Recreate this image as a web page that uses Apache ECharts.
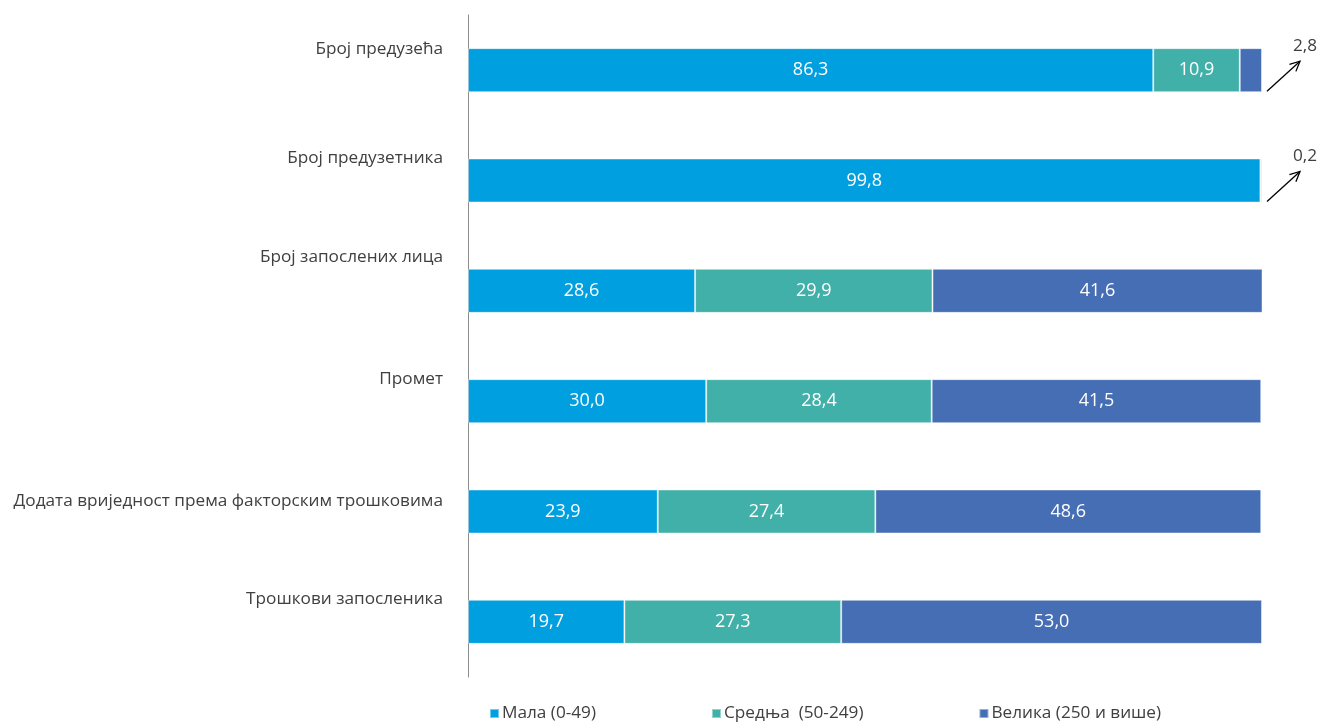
<!DOCTYPE html>
<html>
<head>
<meta charset="utf-8">
<script src="https://cdn.jsdelivr.net/npm/echarts@6/dist/echarts.min.js"></script>
<style>
html,body{margin:0;padding:0;background:#fff;}
#chart{width:1318px;height:722px;}
</style>
</head>
<body>
<div id="chart"></div>
<script>
const categories = [
  'Број предузећа',
  'Број предузетника',
  'Број запослених лица',
  'Промет',
  'Додата вриједност према факторским трошковима',
  'Трошкови запосленика'
];
const seriesNames = ['Мала (0-49)', 'Средња  (50-249)', 'Велика (250 и више)'];
const mala    = [86.3, 99.8, 28.6, 30.0, 23.9, 19.7];
const srednja = [10.9, 0.2, 29.9, 28.4, 27.4, 27.3];
const velika  = [2.8, 0.0, 41.6, 41.5, 48.6, 53.0];
// callouts for small segments: [category index, value shown]
const callouts = [[0, 2.8], [1, 0.2]];
// vertical label lift (px) per category, as in reference
const labelLift = [21, 22, 34, 22, 10, 23];

const colors = ['#009FE0', '#40B0A8', '#466EB4'];
const fmt = v => v.toFixed(1).replace('.', ',');
const FONT = '"Open Sans", "Noto Sans", sans-serif';

const chart = echarts.init(document.getElementById('chart'), null, {renderer: 'canvas'});

function barSeries(name, data, color) {
  return {
    name: name,
    type: 'bar',
    stack: 'total',
    barWidth: 44,
    data: data,
    itemStyle: {color: color, borderColor: 'rgba(255,255,255,0.45)', borderWidth: 1},
    label: {
      show: true,
      position: 'inside',
      color: '#fff',
      fontFamily: FONT,
      fontSize: 18,
      formatter: p => (p.value >= 5 ? fmt(p.value) : '')
    },
    emphasis: {disabled: true}
  };
}

const rich = {};
labelLift.forEach((l, i) => {
  rich['r' + i] = {
    color: '#404040', fontFamily: FONT, fontSize: 17.2,
    padding: [0, 0, l * 2, 0]
  };
});

const option = {
  animation: false,
  color: colors,
  grid: {left: 468, right: 56, top: 15, bottom: 45, containLabel: false},
  xAxis: {
    type: 'value', min: 0, max: 100, show: false
  },
  yAxis: {
    type: 'category',
    inverse: true,
    data: categories,
    axisLine: {show: true, lineStyle: {color: '#8c8c8c', width: 1}},
    axisTick: {show: false},
    splitLine: {show: false},
    axisLabel: {
      margin: 25,
      color: '#404040',
      fontFamily: FONT,
      fontSize: 17.2,
      formatter: (value, index) => '{r' + index + '|' + value + '}',
      rich: rich
    }
  },
  legend: {
    left: 484,
    top: 700,
    itemWidth: 9,
    itemHeight: 9,
    itemGap: 115,
    icon: 'rect',
    textStyle: {color: '#404040', fontFamily: FONT, fontSize: 17.2, padding: [0, 0, 0, -2]},
    data: seriesNames
  },
  series: [
    barSeries(seriesNames[0], mala, colors[0]),
    barSeries(seriesNames[1], srednja, colors[1]),
    barSeries(seriesNames[2], velika, colors[2]),
    {
      type: 'custom',
      silent: true,
      data: callouts.map(c => [100, c[0], c[1]]),
      encode: {x: 0, y: 1},
      renderItem: function (params, api) {
        const p = api.coord([api.value(0), api.value(1)]);
        const x0 = p[0] + 5, y0 = p[1] + 21;
        const x1 = p[0] + 38, y1 = p[1] - 9;
        const ang = Math.atan2(y1 - y0, x1 - x0);
        const h = 11, w = 0.45;
        const a1 = [x1 - h * Math.cos(ang - w), y1 - h * Math.sin(ang - w)];
        const a2 = [x1 - h * Math.cos(ang + w), y1 - h * Math.sin(ang + w)];
        return {
          type: 'group',
          children: [
            {type: 'line', shape: {x1: x0, y1: y0, x2: x1, y2: y1}, style: {stroke: '#000', lineWidth: 1.3}},
            {type: 'polyline', shape: {points: [a1, [x1, y1], a2]}, style: {stroke: '#000', lineWidth: 1.3, fill: null}},
            {type: 'text', style: {x: x1 - 7, y: y1 - 15, text: fmt(api.value(2)), fill: '#404040', font: '17.2px ' + FONT, textAlign: 'left', textVerticalAlign: 'middle'}}
          ]
        };
      }
    }
  ]
};
chart.setOption(option);
</script>
</body>
</html>
